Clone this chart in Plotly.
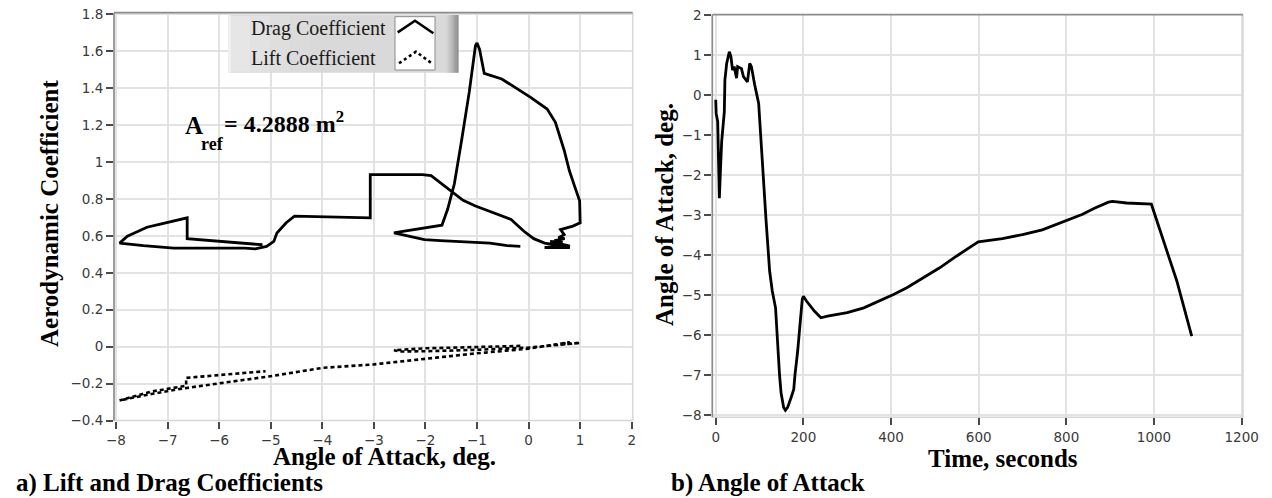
import plotly.graph_objects as go

W, H = 1272, 498

# ---------------- Panel a) data ----------------
drag_aoa = [-0.16, -0.41, -0.75, -1.27, -1.71, -2.02, -2.33, -2.61,
            -2.44, -2.06, -1.68, -1.57, -1.44, -1.30, -1.15, -1.03, -1.00, -0.95, -0.88, -0.86,
            -0.52, -0.20, 0.04, 0.36, 0.52, 0.69, 0.79, 0.90, 0.99, 1.00, 0.86, 0.62, 0.69,
            0.58, 0.70, 0.50, 0.66, 0.42, 0.80, 0.31, 0.80, 0.55, 0.31,
            0.10, -0.09, -0.34, -0.69, -1.03, -1.27, -1.51, -1.72, -1.89, -2.06, -3.07, -3.07,
            -4.00, -4.54, -4.70, -4.88, -4.94, -5.08, -5.30, -5.50, -6.30, -6.88, -7.47, -7.93,
            -7.78, -7.64, -7.40, -7.12, -6.62, -6.62, -6.40, -5.50, -5.16]
drag_cd = [0.543, 0.547, 0.561, 0.567, 0.574, 0.580, 0.598, 0.616,
           0.625, 0.640, 0.658, 0.744, 0.881, 1.115, 1.380, 1.630, 1.645, 1.610, 1.490, 1.480,
           1.450, 1.395, 1.350, 1.287, 1.215, 1.064, 0.954, 0.863, 0.790, 0.671, 0.653, 0.634, 0.607,
           0.590, 0.585, 0.575, 0.565, 0.570, 0.545, 0.537, 0.537, 0.550, 0.561,
           0.585, 0.625, 0.689, 0.726, 0.762, 0.793, 0.845, 0.890, 0.927, 0.932, 0.932, 0.698,
           0.704, 0.707, 0.671, 0.616, 0.570, 0.543, 0.530, 0.534, 0.534, 0.534, 0.547, 0.561,
           0.598, 0.616, 0.647, 0.665, 0.698, 0.585, 0.580, 0.561, 0.552]

lift_aoa = [-0.16, -0.60, -1.36, -2.00, -2.61,
            -2.50, -2.00, -1.30, -1.00, 0.00, 1.00, 0.60, 0.80, 0.30,
            0.00, -1.00, -2.00, -3.00, -4.00, -5.00, -5.93, -6.69, -7.31, -7.93,
            -7.31, -6.64, -6.64, -5.10]
lift_cl = [0.004, 0.001, -0.004, -0.009, -0.019,
           -0.026, -0.025, -0.021, -0.017, -0.005, 0.020, 0.012, 0.024, 0.004,
           -0.011, -0.036, -0.064, -0.096, -0.115, -0.160, -0.196, -0.226, -0.256, -0.291,
           -0.243, -0.212, -0.169, -0.133]

# ---------------- Panel b) data ----------------
time_s = [0, 1, 4.5, 8.3, 11.3, 13.6, 19.6, 21, 25, 31, 34.7, 38.4, 42.2, 47.5, 50, 58.8, 63.3,
          72.4, 77.6, 81.4, 89, 98, 104, 109, 115, 123, 129, 136.5, 140, 145.5, 149, 155, 159,
          164, 172, 178, 181, 187, 193, 197.5, 200, 207, 225, 240, 255, 300, 338, 375, 405.6,
          436, 473, 511, 549, 579, 599, 654, 700, 745, 791, 837, 864, 896, 905, 937.5, 994,
          1020, 1052, 1086]
aoa_deg = [-0.12, -0.46, -0.66, -2.58, -1.75, -1.16, -0.42, 0.38, 0.79, 1.08, 0.96, 0.62, 0.71,
           0.42, 0.71, 0.66, 0.46, 0.33, 0.79, 0.71, 0.25, -0.21, -1.25, -2.24, -3.16, -4.40,
           -4.90, -5.32, -6.07, -6.98, -7.44, -7.81, -7.88, -7.81, -7.56, -7.36, -6.98, -6.40,
           -5.65, -5.11, -5.03, -5.15, -5.40, -5.57, -5.53, -5.44, -5.32, -5.15, -4.99, -4.82,
           -4.57, -4.32, -4.03, -3.82, -3.67, -3.59, -3.49, -3.37, -3.18, -2.98, -2.83, -2.68,
           -2.66, -2.70, -2.73, -3.57, -4.65, -6.03]

a_xticks = list(range(-8, 3))
a_yticks = [-0.4, -0.2, 0, 0.2, 0.4, 0.6, 0.8, 1, 1.2, 1.4, 1.6, 1.8]
b_xticks = [0, 200, 400, 600, 800, 1000, 1200]
b_yticks = list(range(-8, 3))


def px(x):
    return x / W


def py(y):
    return 1 - y / H


SERIF = "Liberation Serif, Times New Roman, serif"
SANS = "DejaVu Sans, sans-serif"
GRID = "#e2e2e2"
TICKC = "#4a4a4a"

fig = go.Figure()
fig.add_trace(go.Scatter(x=drag_aoa, y=drag_cd, mode="lines", name="Drag Coefficient",
                         line=dict(color="black", width=2.8), xaxis="x", yaxis="y",
                         showlegend=False))
fig.add_trace(go.Scatter(x=lift_aoa, y=lift_cl, mode="lines", name="Lift Coefficient",
                         line=dict(color="black", width=2.6, dash="4px,3px"), xaxis="x", yaxis="y",
                         showlegend=False))
fig.add_trace(go.Scatter(x=time_s, y=aoa_deg, mode="lines", name="Angle of Attack",
                         line=dict(color="black", width=2.8), xaxis="x2", yaxis="y2",
                         showlegend=False))

axis_common = dict(showgrid=True, gridcolor=GRID, gridwidth=1.5, zeroline=False,
                   showline=False, ticks="outside", ticklen=7, tickwidth=1.5,
                   tickcolor=TICKC, tickfont=dict(family=SANS, size=13.5, color="#3a3a3a"),
                   automargin=False)

# plot-area pixel boxes
A_L, A_R, A_T, A_B = 114, 632.7, 12.7, 420.5
B_L, B_R, B_T, B_B = 712.3, 1243, 14.7, 417.3

fig.update_layout(
    width=W, height=H,
    margin=dict(l=0, r=0, t=0, b=0),
    paper_bgcolor="white", plot_bgcolor="white",
    xaxis=dict(domain=[px(A_L), px(A_R)], range=[-8.039, 2.019], tickvals=a_xticks,
               anchor="y", **axis_common),
    yaxis=dict(domain=[py(A_B), py(A_T)], range=[-0.4, 1.809], tickvals=a_yticks,
               anchor="x", **axis_common),
    xaxis2=dict(domain=[px(B_L), px(B_R)], range=[-7.8, 1203], tickvals=b_xticks,
                anchor="y2", **axis_common),
    yaxis2=dict(domain=[py(B_B), py(B_T)], range=[-8.057, 2.0075], tickvals=b_yticks,
                anchor="x2", **axis_common),
)

shapes = []
# frame lines
for xr, yr in (("x domain", "y domain"), ("x2 domain", "y2 domain")):
    shapes.append(dict(type="line", xref=xr, yref=yr, x0=0, x1=1, y0=0, y1=0,
                       line=dict(color="#d6d6d6", width=1.5)))
    shapes.append(dict(type="line", xref=xr, yref=yr, x0=1, x1=1, y0=0, y1=1,
                       line=dict(color="#d6d6d6", width=1.5)))
    shapes.append(dict(type="line", xref=xr, yref=yr, x0=0, x1=1, y0=1, y1=1,
                       line=dict(color="#8c8c8c", width=1.7)))
    shapes.append(dict(type="line", xref=xr, yref=yr, x0=0, x1=0, y0=0, y1=1,
                       line=dict(color="#8c8c8c", width=1.7)))

# custom legend box (bevelled gray)
LG_L, LG_R, LG_T, LG_B = 228.3, 458.3, 15, 72.7
shapes.append(dict(type="rect", xref="paper", yref="paper", x0=px(LG_L), x1=px(LG_R),
                   y0=py(LG_B), y1=py(LG_T), fillcolor="#d9d9d9", line=dict(width=0), layer="above"))
bands = ["#e6e6e6", "#e2e2e2", "#dedede", "#dbdbdb"]
for i, c in enumerate(bands):
    x0 = LG_L + 2 + i * 20
    shapes.append(dict(type="rect", xref="paper", yref="paper", x0=px(x0), x1=px(x0 + 20),
                       y0=py(LG_B - 1), y1=py(LG_T + 1), fillcolor=c, line=dict(width=0),
                       layer="above"))
shapes.append(dict(type="rect", xref="paper", yref="paper", x0=px(LG_L), x1=px(LG_L + 2.5),
                   y0=py(LG_B), y1=py(LG_T), fillcolor="#f2f2f2", line=dict(width=0), layer="above"))
bevel = ["#d2d2d2", "#cacaca", "#c0c0c0", "#b5b5b5", "#a9a9a9", "#9c9c9c", "#909090"]
bw = 12.0 / len(bevel)
for i, c in enumerate(bevel):
    x0 = LG_R - 12 + i * bw
    shapes.append(dict(type="rect", xref="paper", yref="paper", x0=px(x0), x1=px(x0 + bw + 0.3),
                       y0=py(LG_B), y1=py(LG_T), fillcolor=c, line=dict(width=0), layer="above"))
# white icon box
shapes.append(dict(type="rect", xref="paper", yref="paper", x0=px(395), x1=px(435),
                   y0=py(70), y1=py(16.7), fillcolor="white", line=dict(color="#8a8a8a", width=1),
                   layer="above"))
# legend icons (chevrons)
shapes.append(dict(type="path", xref="paper", yref="paper", layer="above",
                   path=f"M {px(397.7)},{py(32.3)} L {px(415)},{py(20.7)} L {px(433.3)},{py(33.3)}",
                   line=dict(color="black", width=2.6)))
shapes.append(dict(type="path", xref="paper", yref="paper", layer="above",
                   path=f"M {px(399)},{py(63.3)} L {px(416)},{py(51.7)} L {px(431.7)},{py(63.3)}",
                   line=dict(color="black", width=2.6, dash="3px,3px")))
fig.update_layout(shapes=shapes)

ann = []


def text(t, x, y, size, xanchor="center", yanchor="middle", angle=0, family=SERIF, color="black"):
    ann.append(dict(text=t, x=px(x), y=py(y), xref="paper", yref="paper", showarrow=False,
                    xanchor=xanchor, yanchor=yanchor, textangle=angle,
                    font=dict(family=family, size=size, color=color)))


# legend texts
text("Drag Coefficient", 249, 28.3, 20, xanchor="left", color="#1a1a1a")
text("Lift Coefficient", 249, 58.3, 20, xanchor="left", color="#1a1a1a")
# reference area
text("<b>A</b>", 182.7, 125.5, 25, xanchor="left")
text("<b>ref</b>", 199, 144, 18, xanchor="left")
text("<b>= 4.2888 m<sup>2</sup></b>", 222, 121.5, 24, xanchor="left")
# axis titles
text("<b>Angle of Attack, deg.</b>", 384.5, 456, 25)
text("<b>Aerodynamic Coefficient</b>", 49, 213, 25, angle=-90)
text("<b>Time, seconds</b>", 1003, 458, 25)
text("<b>Angle of Attack, deg.</b>", 664, 215, 25, angle=-90)
# panel captions
text("<b>a) Lift and Drag Coefficients</b>", 14, 483, 25, xanchor="left")
text("<b>b) Angle of Attack</b>", 669, 483, 25, xanchor="left")
fig.update_layout(annotations=ann)

fig.write_html("out.html")
